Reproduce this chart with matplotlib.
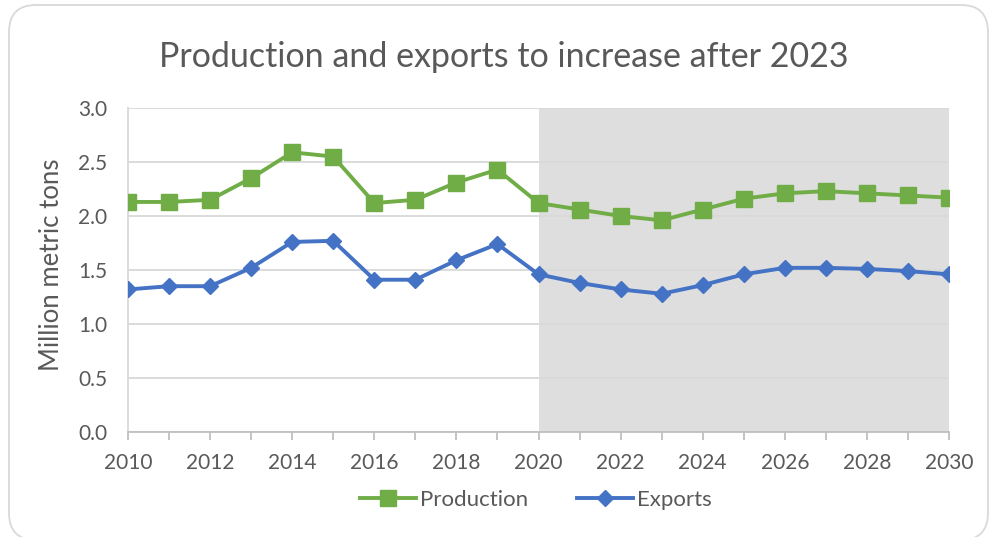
import matplotlib.pyplot as plt
from matplotlib.patches import FancyBboxPatch
from matplotlib.transforms import IdentityTransform

years = list(range(2010, 2031))
production = [2.13, 2.13, 2.15, 2.35, 2.59, 2.55, 2.12, 2.15, 2.31, 2.43, 2.12,
              2.06, 2.00, 1.96, 2.06, 2.16, 2.21, 2.23, 2.21, 2.19, 2.17]
exports = [1.32, 1.35, 1.35, 1.52, 1.76, 1.77, 1.41, 1.41, 1.59, 1.74, 1.46,
           1.38, 1.32, 1.28, 1.36, 1.46, 1.52, 1.52, 1.51, 1.49, 1.46]
forecast_start, forecast_end = 2020, 2030
yticks = [0.0, 0.5, 1.0, 1.5, 2.0, 2.5, 3.0]
xticks = list(range(2010, 2031, 2))

plt.rcParams['font.family'] = ['Lato', 'DejaVu Sans']
text_color = '#595959'
grid_color = '#d9d9d9'

W, H = 995, 537
fig = plt.figure(figsize=(W / 100, H / 100), dpi=100)

# rounded chart frame (pixel coordinates), behind everything
frame = FancyBboxPatch((9, -3), 979, 535,
                       boxstyle='round,pad=0,rounding_size=27',
                       transform=IdentityTransform(), facecolor='white',
                       edgecolor=grid_color, linewidth=1.3, zorder=-5)
fig.patches.append(frame)

ax = fig.add_axes([128 / W, 105 / H, 821 / W, 324 / H])
ax.set_facecolor('none')

# forecast period shading
ax.axvspan(forecast_start, forecast_end, color='#dedede', zorder=0, lw=0)

ax.plot(years, production, color='#70ad47', lw=2.8, marker='s', ms=11.5,
        label='Production', zorder=3)
ax.plot(years, exports, color='#4472c4', lw=2.8, marker='D', ms=8,
        label='Exports', zorder=3)

ax.set_xlim(2010, 2030)
ax.set_ylim(0, 3.0)
ax.set_yticks(yticks)
ax.set_yticklabels([f'{v:.1f}' for v in yticks])
ax.set_xticks(xticks)
ax.set_xticks(years, minor=True)
ax.yaxis.grid(True, color=grid_color, lw=1.3, zorder=1)
ax.set_axisbelow(True)

for side in ['top', 'right']:
    ax.spines[side].set_visible(False)
ax.spines['left'].set_color(grid_color)
ax.spines['left'].set_linewidth(1.3)
ax.spines['bottom'].set_color('#bfbfbf')
ax.spines['bottom'].set_linewidth(1.3)

ax.tick_params(axis='y', length=0, pad=15, labelsize=15, labelcolor=text_color)
ax.tick_params(axis='x', which='both', length=6, width=1.3, color='#bfbfbf',
               direction='out', pad=9, labelsize=15, labelcolor=text_color)

fig.text(52 / W, (H - 265) / H, 'Million metric tons', rotation=90,
         ha='center', va='center', fontsize=18.5, color=text_color)
fig.text(504 / W, (H - 67) / H, 'Production and exports to increase after 2023',
         ha='center', va='baseline', fontsize=24.5, color=text_color)

ax.legend(loc='center', bbox_to_anchor=(536 / W, (H - 500) / H),
          bbox_transform=fig.transFigure, ncol=2, frameon=False,
          fontsize=16, labelcolor=text_color, handlelength=2.5,
          handletextpad=0.2, columnspacing=2.2)

fig.savefig('out.png', dpi=100)
